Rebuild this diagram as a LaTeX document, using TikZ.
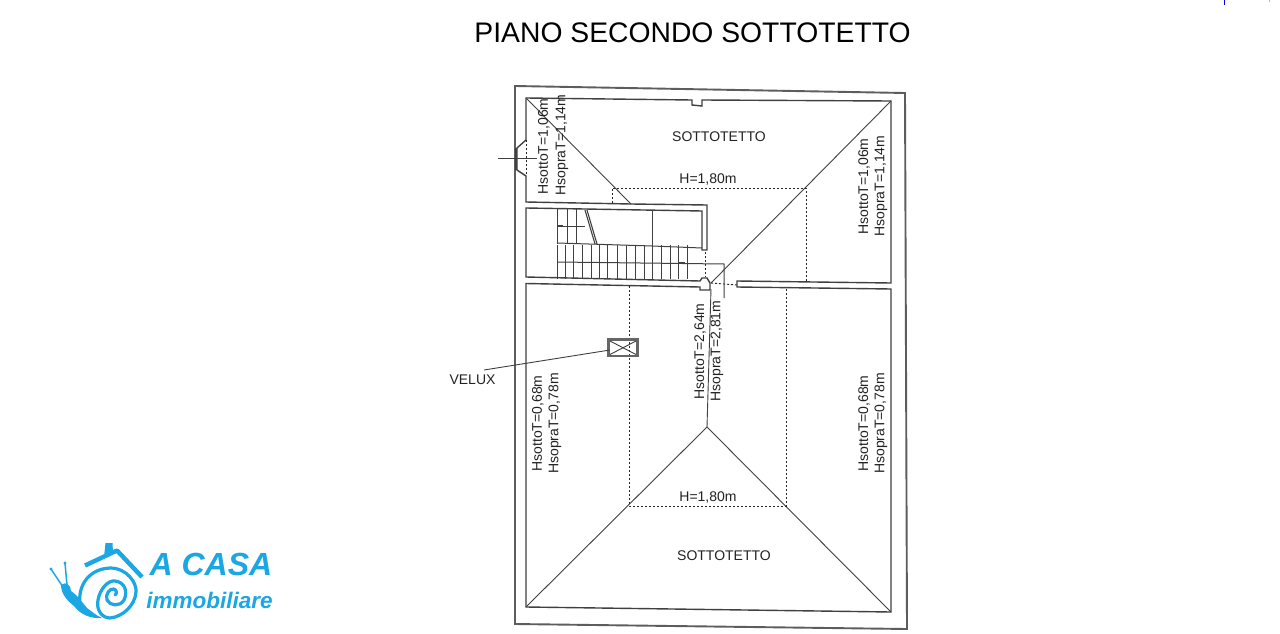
\documentclass[tikz,border=0pt]{standalone}
\usepackage{fontspec}
\setmainfont{Liberation Sans}
\definecolor{wallc}{HTML}{404040}
\definecolor{logoc}{HTML}{1AA7E4}
\definecolor{txtc}{HTML}{222222}
\tikzset{
  wall/.style={draw=wallc,line width=1.4pt,line join=miter},
  outerwall/.style={draw=wallc!85,line width=1.9pt},
  thin line/.style={draw=wallc,line width=0.9pt},
  stair/.style={draw=black!75,line width=1pt},
  hidden/.style={draw=black!85,line width=0.9pt,dash pattern=on 2.2pt off 1.8pt},
  lab/.style={text=txtc,font=\fontsize{14}{14}\selectfont,inner sep=0pt},
  vlab/.style={lab,rotate=90},
  logo/.style={draw=logoc,line cap=round,line join=round}
}
\begin{document}
\begin{tikzpicture}[x=1pt,y=-1pt]
\useasboundingbox (0,0) rectangle (1280,634);
\fill[white] (0,0) rectangle (1280,634);
% stray marks
\draw[blue,line width=1pt] (1224,0) -- (1224,5);
\draw[orange!70,line width=1pt] (1269,0) -- (1269,2);
% title
\node[inner sep=0pt,text=black,font=\fontsize{28.3}{28.3}\selectfont] (title) at (692.5,32.5) {PIANO SECONDO SOTTOTETTO};
% outer wall
\draw[outerwall] (515,86) -- (905,93) -- (907,629) -- (515,624) -- cycle;
% rooms
\draw[wall] (526,140) -- (526,98) -- (692,100) -- (692,105) -- (702,106) -- (702,100) -- (891,101) -- (891,283) -- (737,281) -- (737,287) -- (815,288) -- (891,289) -- (891,612) -- (526,607) -- (526,283.5) -- (700,287) -- (700,290) -- (710,290) -- (710,283) -- (707,278) -- (702,278) -- (700,281) -- (526,277) -- (526,208) -- (702,211) -- (702,250) -- (707,250) -- (707,205) -- (631,204) -- (526,202) -- (526,176) -- (517,170) -- (517,148) -- (526,140);
\draw[wall,line width=1.8pt] (516,148) -- (516,170);
\draw[hidden] (526,140) -- (526,176);
\draw[thin line] (498,158) -- (537,158);
% ridges
\draw[thin line] (526,98) -- (631,204);
\draw[thin line] (891,101) -- (711,283);
\draw[thin line] (526,607) -- (707,427) -- (891,612);
\draw[thin line] (711,289) -- (707,427);
% dashed
\draw[hidden] (612,203) -- (612,188) -- (806,188) -- (806,282);
\draw[hidden] (629,286) -- (629,506) -- (786,506) -- (786,288);
\draw[hidden] (705,252) -- (705,277);
\draw[hidden] (711,283) -- (737,285);
% stairs upper
\foreach \x in {557,567,576} \draw[stair] (\x,209) -- (\x,244);
\draw[stair] (557,226) -- (585,226);
\draw[stair,line width=1.4pt] (558,226) -- (563,226);
\draw[stair,line width=1.1pt] (585,210) -- (595,244);
\draw[stair,line width=1.1pt] (587,210) -- (597,244);
\draw[stair] (652,211) -- (652,246);
\draw[stair] (557,243) -- (652,246) -- (702,248);
% stairs lower
\foreach \x in {557.5,565,573,582,591,599,607,617,626,635,644,652,661,670,678,687} \draw[stair] (\x,245) -- (\x,279);
\draw[stair] (557,262) -- (724,264) -- (724,298);
\draw[stair,line width=1.5pt] (678,263) -- (685,263);
% velux
\draw[draw=wallc!80,line width=2.4pt] (608.5,339.5) rectangle (637.5,356);
\draw[thin line] (610,341) -- (636,354.5);
\draw[thin line] (610,354.5) -- (636,341);
\draw[thin line] (484,370) -- (610,350);
% labels
\node[lab] (velux) at (472.5,380) {VELUX};
\node[vlab] (a1) at (544,146.5) {HsottoT=1,06m};
\node[vlab] (a2) at (562,145) {HsopraT=1,14m};
\node[vlab] (b1) at (864,186.5) {HsottoT=1,06m};
\node[vlab] (b2) at (881,186) {HsopraT=1,14m};
\node[vlab] (c1) at (700,351.5) {HsottoT=2,64m};
\node[vlab] (c2) at (717,351) {HsopraT=2,81m};
\node[vlab] (d1) at (538,423.5) {HsottoT=0,68m};
\node[vlab] (d2) at (555,423.5) {HsopraT=0,78m};
\node[vlab] (e1) at (864,423.5) {HsottoT=0,68m};
\node[vlab] (e2) at (881,423.5) {HsopraT=0,78m};
\node[lab] (h1) at (708,180) {H=1,80m};
\node[lab] (h2) at (708,498) {H=1,80m};
\node[lab] (s1) at (719,136.5) {SOTTOTETTO};
\node[lab] (s2) at (724,555.5) {SOTTOTETTO};
% logo
\draw[logo,line width=4.4pt,line cap=butt] (85,565.5) -- (117,550.5) -- (142,577);
\fill[logoc] (105.5,543) -- (112.5,543) -- (113,553) -- (104,557) -- cycle;
\draw[logo,line width=1.5pt] (51,569) -- (63,587);
\draw[logo,line width=1.5pt] (65,563) -- (67,585);
\fill[logoc] (51,569) circle (1.6pt) (65,563) circle (1.6pt);
\fill[logoc] (61,585) .. controls (66,581) and (71,585) .. (71,591) .. controls (77,595) and (82,602) .. (87,608) .. controls (91,611) and (97,616) .. (102,618) .. controls (90,619) and (80,614) .. (74,606) .. controls (69,602) and (61,595) .. (61,585) -- cycle;
\draw[logo,line width=3.2pt] (81,608) .. controls (76,590) and (86,569) .. (110,568) .. controls (127,568) and (137,583) .. (136,592) .. controls (135,606) and (122,617) .. (110,618) .. controls (102,618) and (96,610) .. (98,600) .. controls (100,589) and (108,580) .. (115,581) .. controls (125,582) and (128,592) .. (124,600) .. controls (120,607) and (110,606) .. (107,600) .. controls (105,594) and (110,588) .. (114,589) .. controls (117,590) and (117,594) .. (115,595);
\node[inner sep=0pt,text=logoc,font=\fontsize{32}{32}\selectfont\bfseries\itshape] (logoa) at (211,564) {A CASA};
\node[inner sep=0pt,text=logoc,font=\fontsize{22.5}{22.5}\selectfont\bfseries\itshape] (logob) at (209.5,600) {immobiliare};
\end{tikzpicture}
\end{document}
